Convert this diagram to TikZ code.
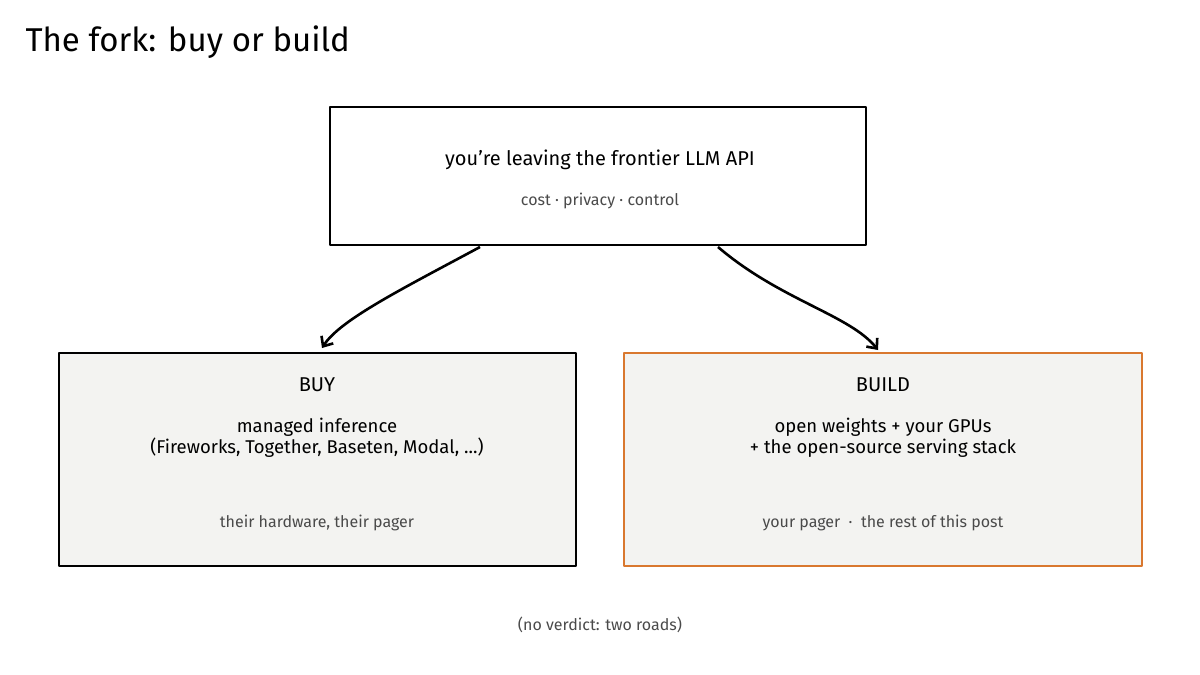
\documentclass[tikz,border=0pt]{standalone}
\usepackage{fontspec}
\setmainfont{Fira Sans}
\usetikzlibrary{arrows.meta}
\definecolor{boxfill}{HTML}{F3F3F1}
\definecolor{orng}{HTML}{D9782F}
\definecolor{subgray}{HTML}{4A4A4A}
\tikzset{
  box/.style={draw=black, line width=2.8pt, line join=round},
  main/.style={font=\fontsize{20}{23}\selectfont, text=black},
  sub/.style={font=\fontsize{16}{19}\selectfont, text=subgray},
  conn/.style={line width=2.6pt, -{Straight Barb[length=8pt,width=14pt]}}
}
\begin{document}
\begin{tikzpicture}[x=1pt,y=-1pt]
\useasboundingbox (0,0) rectangle (1200,675);
\node[anchor=west, font=\fontsize{33}{38}\selectfont] (title) at (22,42) {The fork: buy or build};
\draw[box, fill=white] (330,107) rectangle (866,245);
\node[main] (q) at (600,160) {you're leaving the frontier LLM API};
\node[sub] (qs) at (600,201) {cost · privacy · control};
\draw[box, fill=boxfill] (59,353) rectangle (576,566);
\node[main] (buy) at (317,385) {BUY};
\node[main, align=center, font=\fontsize{18.5}{21}\selectfont] (buyt) at (317,438) {managed inference\\(Fireworks, Together, Baseten, Modal, ...)};
\node[sub] (buys) at (317,523) {their hardware, their pager};
\draw[box, draw=orng, fill=boxfill] (624,353) rectangle (1142,566);
\node[main] (build) at (883,385) {BUILD};
\node[main, align=center, font=\fontsize{18.5}{21}\selectfont] (buildt) at (883,438) {open weights + your GPUs\\+ the open-source serving stack};
\node[sub] (builds) at (883,523) {your pager \ · \ the rest of this post};
\node[sub] (foot) at (600,625) {(no verdict: two roads)};
\coordinate (a1) at (480,247);
\coordinate (a2) at (322,348);
\coordinate (b1) at (718,247);
\coordinate (b2) at (878,350);
\draw[conn] (a1) .. controls (400,290) and (340,320) .. (a2);
\draw[conn] (b1) .. controls (780,300) and (850,315) .. (b2);
\end{tikzpicture}
\end{document}
